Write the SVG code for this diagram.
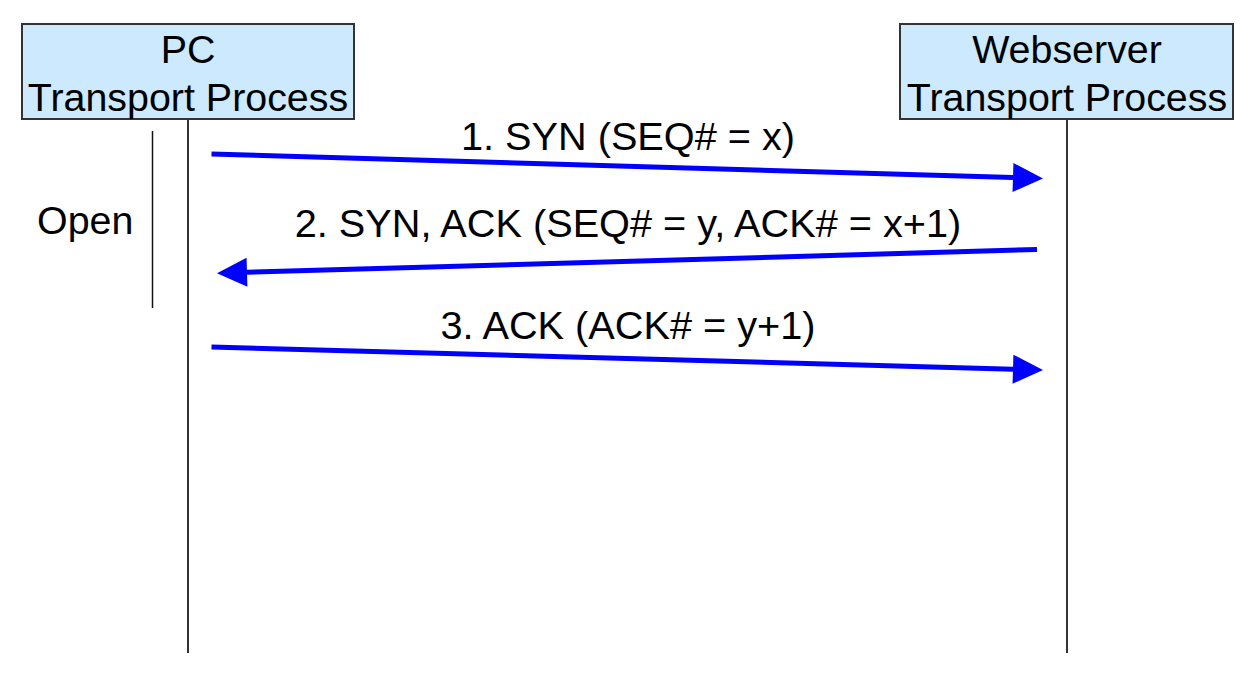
<svg xmlns="http://www.w3.org/2000/svg" width="1252" height="679" viewBox="0 0 1252 679">
  <style>
    .box { fill: #cce9fe; stroke: #333333; stroke-width: 2; }
    .t { font-family: "Liberation Sans", Arial, sans-serif; font-size: 39.4px; fill: #000000; }
    .m { font-size: 39.7px; }
    .life { stroke: #333333; stroke-width: 2; fill: none; }
    .msg { stroke: #0000ff; stroke-width: 5; fill: none; }
  </style>
  <defs>
    <marker id="ah" markerUnits="userSpaceOnUse" markerWidth="31" markerHeight="30" viewBox="0 -15 31 30" refX="0" refY="0" orient="auto" overflow="visible">
      <path d="M0,-14.5 L30,0 L0,14.5 Z" fill="#0000ff"/>
    </marker>
  </defs>
  <rect width="1252" height="679" fill="#ffffff"/>

  <g id="pc">
    <rect class="box" x="22" y="24" width="332" height="95"/>
    <text class="t" x="188" y="63" text-anchor="middle">PC</text>
    <text class="t" x="188" y="111" text-anchor="middle">Transport Process</text>
    <line class="life" x1="188" y1="119" x2="188" y2="653"/>
  </g>

  <g id="webserver">
    <rect class="box" x="900" y="24" width="333" height="95"/>
    <text class="t" x="1067" y="63" text-anchor="middle">Webserver</text>
    <text class="t" x="1067" y="111" text-anchor="middle">Transport Process</text>
    <line class="life" x1="1067" y1="119" x2="1067" y2="653" stroke="#111111" stroke-width="1.6"/>
  </g>

  <g id="open">
    <line x1="152.5" y1="131" x2="152.5" y2="308" stroke="#111111" stroke-width="1.5"/>
    <text class="t" x="37" y="234">Open</text>
  </g>

  <g id="connectors">
    <line class="msg" x1="211.5" y1="154" x2="1013" y2="177.5" marker-end="url(#ah)"/>
    <line class="msg" x1="1037" y1="249.5" x2="247" y2="272.3" marker-end="url(#ah)"/>
    <line class="msg" x1="211.5" y1="347" x2="1013" y2="369.2" marker-end="url(#ah)"/>
  </g>

  <g id="labels">
    <text class="t m" x="628" y="150" text-anchor="middle">1. SYN (SEQ# = x)</text>
    <text class="t m" x="628" y="237" text-anchor="middle">2. SYN, ACK (SEQ# = y, ACK# = x+1)</text>
    <text class="t m" x="628" y="339" text-anchor="middle">3. ACK (ACK# = y+1)</text>
  </g>
</svg>
